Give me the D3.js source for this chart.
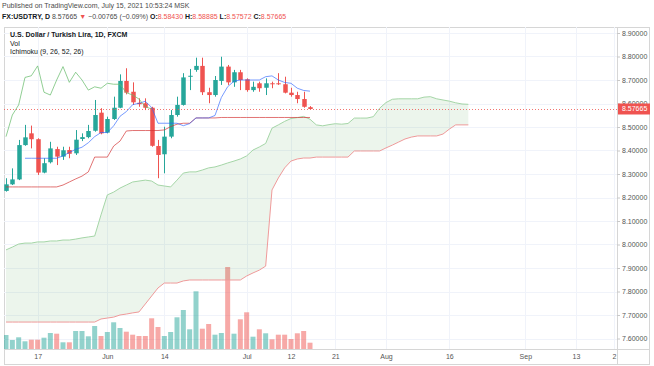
<!DOCTYPE html>
<html>
<head>
<meta charset="utf-8">
<script src="https://cdn.jsdelivr.net/npm/d3@7"></script>
<style>
body { margin: 0; background: #fff; }
svg { display: block; font-family: "Liberation Sans", Arial, sans-serif; }
</style>
</head>
<body>
<svg id="chart"></svg>
<script>
// daily candles, May 10 .. Jul 15 2021 (trading days)
let opens = [8.228, 8.256, 8.277, 8.423, 8.473, 8.448, 8.306, 8.350, 8.406, 8.374,
  8.402, 8.388, 8.449, 8.457, 8.484, 8.561, 8.476, 8.534, 8.582, 8.696,
  8.650, 8.603, 8.601, 8.582, 8.419, 8.384, 8.459, 8.551, 8.594, 8.714,
  8.743, 8.760, 8.648, 8.636, 8.696, 8.757, 8.690, 8.733, 8.703, 8.657,
  8.686, 8.667, 8.686, 8.686, 8.682, 8.646, 8.636, 8.619, 8.5843]
let highs = [8.282, 8.324, 8.445, 8.509, 8.506, 8.452, 8.367, 8.437, 8.416, 8.416,
  8.416, 8.487, 8.473, 8.509, 8.615, 8.580, 8.544, 8.629, 8.724, 8.750,
  8.690, 8.622, 8.622, 8.586, 8.445, 8.501, 8.572, 8.629, 8.729, 8.747,
  8.795, 8.795, 8.667, 8.717, 8.799, 8.764, 8.743, 8.743, 8.707, 8.693,
  8.693, 8.707, 8.693, 8.729, 8.714, 8.667, 8.650, 8.650, 8.58885]
let lows = [8.225, 8.253, 8.274, 8.420, 8.409, 8.296, 8.303, 8.345, 8.338, 8.360,
  8.367, 8.381, 8.440, 8.452, 8.480, 8.469, 8.473, 8.530, 8.580, 8.639,
  8.594, 8.586, 8.572, 8.416, 8.282, 8.303, 8.452, 8.544, 8.591, 8.657,
  8.735, 8.636, 8.601, 8.629, 8.679, 8.679, 8.671, 8.657, 8.650, 8.650,
  8.650, 8.636, 8.665, 8.679, 8.643, 8.629, 8.601, 8.582, 8.57572]
let closes = [8.256, 8.277, 8.423, 8.456, 8.448, 8.306, 8.346, 8.409, 8.374, 8.401,
  8.386, 8.446, 8.457, 8.483, 8.551, 8.473, 8.534, 8.582, 8.696, 8.646,
  8.605, 8.597, 8.582, 8.420, 8.381, 8.459, 8.551, 8.594, 8.711, 8.718,
  8.760, 8.648, 8.636, 8.700, 8.757, 8.690, 8.733, 8.700, 8.657, 8.671,
  8.665, 8.686, 8.682, 8.682, 8.646, 8.636, 8.619, 8.586, 8.57665]
let volumes = [14, 9, 11.7, 7.7, 9.3, 9.3, 11.3, 16, 15.3, 6.7,
  6.7, 18, 18, 12.7, 23, 13, 17, 26.7, 21, 17.3,
  14.3, 13, 13, 30.7, 22, 13, 17, 31.7, 39, 19.7,
  57.7, 20.3, 25, 14.3, 16, 82, 15.3, 29.7, 36.7, 12.3,
  19.7, 15.7, 9.7, 14.3, 14.3, 10, 15.7, 18, 6.3]

// Ichimoku (9, 26, 52, 26)
let tenkan = [null, null, null, 8.367, 8.367, 8.367, 8.367, 8.367, 8.367, 8.377,
  8.3915, 8.405, 8.414, 8.433, 8.459, 8.4765, 8.4765, 8.505, 8.5455, 8.5655,
  8.595, 8.601, 8.6095, 8.583, 8.516, 8.516, 8.516, 8.516, 8.5055, 8.5145,
  8.5385, 8.5385, 8.5385, 8.549, 8.6255, 8.6715, 8.695, 8.700, 8.700, 8.700,
  8.700, 8.714, 8.7175, 8.700, 8.6895, 8.686, 8.665, 8.6555, 8.6525]
let kijun = [8.245, 8.245, 8.245, 8.245, 8.245, 8.245, 8.245, 8.245, 8.245, 8.253,
  8.266, 8.279, 8.291, 8.309, 8.372, 8.372, 8.372, 8.419, 8.440, 8.483,
  8.485, 8.485, 8.485, 8.485, 8.485, 8.4875, 8.5015, 8.512, 8.516, 8.516,
  8.5385, 8.5385, 8.5385, 8.5385, 8.5405, 8.5405, 8.5405, 8.5405, 8.5405, 8.5405,
  8.5405, 8.5405, 8.5405, 8.5405, 8.5405, 8.5405, 8.5405, 8.5405, 8.5405]
let lagging = [8.459, 8.551, 8.594, 8.711, 8.718, 8.760, 8.648, 8.636, 8.700, 8.757,
  8.690, 8.733, 8.700, 8.657, 8.671, 8.665, 8.686, 8.682, 8.682, 8.646,
  8.636, 8.619, 8.586, 8.57665]
let spanA = [7.977, 7.989, 8.002, 8.006, 8.006, 8.011, 8.011, 8.015, 8.015, 8.019,
  8.019, 8.023, 8.028, 8.032, 8.036, 8.126, 8.211, 8.223, 8.240, 8.253,
  8.266, 8.270, 8.274, 8.270, 8.253, 8.249, 8.245, 8.274, 8.304, 8.309,
  8.309, 8.317, 8.326, 8.330, 8.338, 8.347, 8.355, 8.364, 8.377, 8.402,
  8.415, 8.430, 8.495, 8.509, 8.524, 8.536, 8.540, 8.545, 8.533, 8.509,
  8.505, 8.510, 8.514, 8.512, 8.515, 8.538, 8.538, 8.538, 8.544, 8.580,
  8.604, 8.618, 8.620, 8.620, 8.620, 8.620, 8.627, 8.629, 8.620, 8.615,
  8.610, 8.603, 8.598, 8.5965]
let spanB = [7.670, 7.670, 7.670, 7.670, 7.670, 7.670, 7.670, 7.670, 7.670, 7.670,
  7.670, 7.670, 7.670, 7.670, 7.670, 7.683, 7.687, 7.691, 7.700, 7.704,
  7.709, 7.713, 7.747, 7.781, 7.815, 7.836, 7.836, 7.836, 7.845, 7.849,
  7.849, 7.849, 7.849, 7.849, 7.849, 7.849, 7.849, 7.849, 7.866, 7.879,
  7.891, 7.908, 8.232, 8.283, 8.326, 8.355, 8.364, 8.368, 8.368, 8.372,
  8.372, 8.372, 8.372, 8.372, 8.372, 8.398, 8.398, 8.398, 8.398, 8.398,
  8.411, 8.423, 8.436, 8.449, 8.457, 8.462, 8.462, 8.462, 8.462, 8.470,
  8.491, 8.509, 8.509, 8.509]

let priceTicks = [7.6, 7.7, 7.8, 7.9, 8.0, 8.1, 8.2, 8.3, 8.4, 8.5, 8.6, 8.7, 8.8, 8.9]
let timeTickIdx = [5, 16, 25, 38, 45, 52, 60, 70, 82, 90, 96]
let timeTickLabels = ['17', 'Jun', '14', 'Jul', '12', '21', 'Aug', '16', 'Sep', '13', '2']

let lastPrice = 8.57665

let width = 654
let height = 366
let plotLeft = 4
let plotRight = 617
let plotTop = 27
let plotBottom = 349

let green = '#26a69a'
let red = '#ef5350'

let svg = d3.select('#chart').attr('width', width).attr('height', height)

let xScale = d3.scaleLinear().domain([0, 96]).range([6, 6 + 6.3333 * 96])
let yScale = d3.scaleLinear().domain([7.6, 8.9]).range([338.5, 33])
let volScale = d3.scaleLinear().domain([0, d3.max(volumes)]).range([plotBottom, 267])

svg.append('defs').append('clipPath').attr('id', 'plot')
  .append('rect')
  .attr('x', plotLeft).attr('y', plotTop)
  .attr('width', plotRight - plotLeft).attr('height', plotBottom - plotTop)

// header
let head = svg.append('g').attr('font-size', 7).attr('fill', '#4a4a4a')
head.append('text').attr('x', 2).attr('y', 8)
  .text('Published on TradingView.com, July 15, 2021 10:53:24 MSK')
let l2 = head.append('text').attr('x', 2).attr('y', 19)
l2.append('tspan').attr('font-weight', 'bold').attr('fill', '#131722').text('FX:USDTRY, D ')
l2.append('tspan').text('8.57665 ')
l2.append('tspan').attr('fill', red).text('\u25BC ')
l2.append('tspan').text('\u22120.00765 (\u22120.09%) ')
let ohlc = [['O:', opens[48]], ['H:', highs[48]], ['L:', lows[48]], ['C:', closes[48]]]
ohlc.forEach((d) => {
  l2.append('tspan').attr('font-weight', 'bold').attr('fill', '#131722').text(d[0])
  l2.append('tspan').attr('fill', red).text(d3.format('.5f')(d[1]) + ' ')
})

// frame
svg.append('rect')
  .attr('x', 4.5).attr('y', 27.5).attr('width', 645).attr('height', 337)
  .attr('fill', 'none').attr('stroke', '#d6d6d6')

// grid
let grid = svg.append('g').attr('stroke', '#f0f3fa').attr('stroke-width', 1)
grid.selectAll('.hg').data(priceTicks).enter().append('line')
  .attr('x1', plotLeft).attr('x2', plotRight)
  .attr('y1', (d) => Math.round(yScale(d)) + 0.5).attr('y2', (d) => Math.round(yScale(d)) + 0.5)
grid.selectAll('.vg').data(timeTickIdx).enter().append('line')
  .attr('y1', plotTop).attr('y2', plotBottom)
  .attr('x1', (d) => Math.round(xScale(d)) + 0.5).attr('x2', (d) => Math.round(xScale(d)) + 0.5)

let plot = svg.append('g').attr('clip-path', 'url(#plot)')

// volume
plot.selectAll('.vol').data(volumes).enter().append('rect')
  .attr('x', (d, i) => xScale(i) - 2.5)
  .attr('width', 5)
  .attr('y', (d) => volScale(d))
  .attr('height', (d) => plotBottom - volScale(d))
  .attr('fill', (d, i) => closes[i] >= opens[i] ? green : red)
  .attr('opacity', 0.5)

// cloud
let cloudArea = d3.area()
  .x((d, i) => xScale(i))
  .y0((d, i) => yScale(spanB[i]))
  .y1((d) => yScale(d))
plot.append('path').datum(spanA)
  .attr('d', cloudArea)
  .attr('fill', '#43a047').attr('fill-opacity', 0.1)

let line = d3.line()
  .defined((d) => d !== null)
  .x((d, i) => xScale(i))
  .y((d) => yScale(d))

plot.append('path').datum(spanA).attr('d', line)
  .attr('fill', 'none').attr('stroke', '#a5d6a7').attr('stroke-width', 1)
plot.append('path').datum(spanB).attr('d', line)
  .attr('fill', 'none').attr('stroke', '#ef9a9a').attr('stroke-width', 1)

// candles
let candles = plot.selectAll('.candle').data(closes).enter().append('g')
candles.append('line')
  .attr('x1', (d, i) => Math.round(xScale(i)) + 0.5)
  .attr('x2', (d, i) => Math.round(xScale(i)) + 0.5)
  .attr('y1', (d, i) => yScale(highs[i]))
  .attr('y2', (d, i) => yScale(lows[i]))
  .attr('stroke', (d, i) => d >= opens[i] ? green : red)
candles.append('rect')
  .attr('x', (d, i) => Math.round(xScale(i)) - 1.75)
  .attr('width', 4.5)
  .attr('y', (d, i) => yScale(Math.max(d, opens[i])))
  .attr('height', (d, i) => Math.max(1, Math.abs(yScale(d) - yScale(opens[i]))))
  .attr('fill', (d, i) => d >= opens[i] ? green : red)

// ichimoku lines
plot.append('path').datum(kijun).attr('d', line)
  .attr('fill', 'none').attr('stroke', '#d32f2f').attr('stroke-width', 0.8).attr('opacity', 0.85)
plot.append('path').datum(tenkan).attr('d', line)
  .attr('fill', 'none').attr('stroke', '#2962ff').attr('stroke-width', 0.8).attr('opacity', 0.8)
plot.append('path').datum(lagging).attr('d', line)
  .attr('fill', 'none').attr('stroke', '#66bb6a').attr('stroke-width', 0.8).attr('opacity', 0.9)

// last price line
plot.append('line')
  .attr('x1', plotLeft).attr('x2', plotRight)
  .attr('y1', Math.round(yScale(lastPrice)) + 0.5).attr('y2', Math.round(yScale(lastPrice)) + 0.5)
  .attr('stroke', red).attr('stroke-dasharray', '1,2').attr('opacity', 0.8)

// separators
svg.append('line').attr('x1', plotRight + 0.5).attr('x2', plotRight + 0.5)
  .attr('y1', plotTop).attr('y2', 364).attr('stroke', '#d6d6d6')
svg.append('line').attr('x1', plotLeft).attr('x2', 650)
  .attr('y1', plotBottom + 0.5).attr('y2', plotBottom + 0.5).attr('stroke', '#d6d6d6')

// axes
let yAxis = d3.axisRight(yScale).tickValues(priceTicks).tickFormat(d3.format('.5f')).tickSize(3)
let yg = svg.append('g').attr('transform', 'translate(' + plotRight + ',0)').call(yAxis)
yg.select('.domain').remove()
yg.selectAll('line').attr('stroke', '#c8c8c8')
yg.selectAll('text').attr('fill', '#555').attr('font-size', 7).attr('font-family', 'Liberation Sans, Arial, sans-serif').attr('x', 5)

let xAxis = d3.axisBottom(xScale).tickValues(timeTickIdx).tickFormat((d, i) => timeTickLabels[i]).tickSize(0)
let xg = svg.append('g').attr('transform', 'translate(0,' + plotBottom + ')').call(xAxis)
xg.select('.domain').remove()
xg.selectAll('text').attr('fill', '#555').attr('font-size', 7).attr('font-family', 'Liberation Sans, Arial, sans-serif').attr('dy', '0.71em').attr('y', 5)

// last price tag
let ly = yScale(lastPrice)
svg.append('rect').attr('x', plotRight + 1).attr('y', ly - 5.5).attr('width', 32).attr('height', 11).attr('fill', red)
svg.append('text').attr('x', plotRight + 5).attr('y', ly + 2.5).attr('font-size', 7).attr('fill', '#fff').text(d3.format('.5f')(lastPrice))

// legend
let legend = svg.append('g').attr('font-size', 7).attr('fill', '#131722')
legend.append('text').attr('x', 10).attr('y', 37).attr('font-weight', 'bold').text('U.S. Dollar / Turkish Lira, 1D, FXCM')
legend.append('text').attr('x', 10).attr('y', 45.5).text('Vol')
legend.append('text').attr('x', 10).attr('y', 54).text('Ichimoku (9, 26, 52, 26)')
</script>
</body>
</html>
